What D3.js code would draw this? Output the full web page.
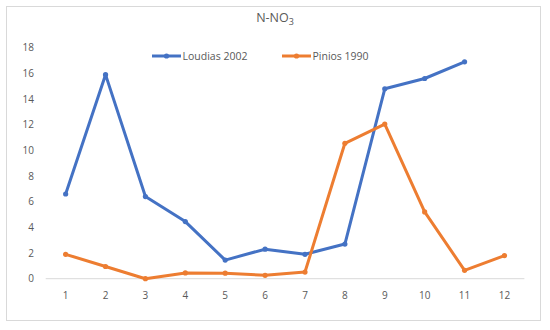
<!DOCTYPE html>
<html>
<head>
<meta charset="utf-8">
<script src="https://cdn.jsdelivr.net/npm/d3@7"></script>
<style>
  body { margin: 0; background: #fff; }
  text { font-family: "Open Sans", "Liberation Sans", sans-serif; }
</style>
</head>
<body>
<svg id="chart" width="550" height="330"></svg>
<script>
/* chart data */
var months = ['1', '2', '3', '4', '5', '6', '7', '8', '9', '10', '11', '12'];
var loudias2002 = [6.6, 15.9, 6.4, 4.45, 1.45, 2.3, 1.9, 2.7, 14.8, 15.6, 16.9, null];
var pinios1990 = [1.9, 0.95, 0.0, 0.45, 0.43, 0.26, 0.52, 10.55, 12.05, 5.2, 0.65, 1.8];
var yTicks = [0, 2, 4, 6, 8, 10, 12, 14, 16, 18];

var seriesNames = ['Loudias 2002', 'Pinios 1990'];
var seriesColors = ['#4472C4', '#ED7D31'];

var svg = d3.select('#chart');

// outer frame
svg.append('rect')
   .attr('x', 6.5).attr('y', 6.5)
   .attr('width', 534).attr('height', 314)
   .attr('fill', '#fff')
   .attr('stroke', '#d9d9d9');

var x = d3.scaleBand().domain(months).range([45.7, 524.4]);
var y = d3.scaleLinear().domain([0, 18]).range([278.7, 47.7]);

// x axis line
svg.append('line')
   .attr('x1', x.range()[0]).attr('x2', x.range()[1])
   .attr('y1', y(0)).attr('y2', y(0))
   .attr('stroke', '#d9d9d9').attr('stroke-width', 1);

// y tick labels
svg.selectAll('.ytick').data(yTicks).enter().append('text')
   .attr('class', 'ytick')
   .attr('x', 34)
   .attr('y', function(d) { return y(d); })
   .attr('dy', '0.35em')
   .attr('text-anchor', 'end')
   .attr('font-size', 10)
   .attr('fill', '#595959')
   .text(function(d) { return d; });

// x tick labels
svg.selectAll('.xtick').data(months).enter().append('text')
   .attr('class', 'xtick')
   .attr('x', function(d) { return x(d) + x.bandwidth() / 2; })
   .attr('y', 295)
   .attr('dy', '0.35em')
   .attr('text-anchor', 'middle')
   .attr('font-size', 10)
   .attr('fill', '#595959')
   .text(function(d) { return d; });

// title N-NO3
var title = svg.append('text')
   .attr('x', 275).attr('y', 22)
   .attr('text-anchor', 'middle')
   .attr('font-size', 12.5)
   .attr('fill', '#595959');
title.append('tspan').text('N-NO');
title.append('tspan').attr('font-size', 9).attr('dy', 3).text('3');

var cx = function(i) { return x(months[i]) + x.bandwidth() / 2; };

[loudias2002, pinios1990].forEach(function(vals, s) {
	var pts = vals.map(function(v, i) { return { i: i, v: v }; })
	              .filter(function(p) { return p.v !== null; });

	var line = d3.line()
	             .x(function(p) { return cx(p.i); })
	             .y(function(p) { return y(p.v); });

	svg.append('path')
	   .datum(pts)
	   .attr('d', line)
	   .attr('fill', 'none')
	   .attr('stroke', seriesColors[s])
	   .attr('stroke-width', 3)
	   .attr('stroke-linejoin', 'round')
	   .attr('stroke-linecap', 'round');

	svg.selectAll('.pt' + s).data(pts).enter().append('circle')
	   .attr('class', 'pt' + s)
	   .attr('cx', function(p) { return cx(p.i); })
	   .attr('cy', function(p) { return y(p.v); })
	   .attr('r', 2.6)
	   .attr('fill', seriesColors[s]);
});

// legend
var legendX = [152, 282];
seriesNames.forEach(function(name, s) {
	var g = svg.append('g').attr('transform', 'translate(' + legendX[s] + ', 56)');
	g.append('line')
	 .attr('x1', 0).attr('x2', 29)
	 .attr('y1', 0).attr('y2', 0)
	 .attr('stroke', seriesColors[s])
	 .attr('stroke-width', 3);
	g.append('circle')
	 .attr('cx', 14.5).attr('cy', 0).attr('r', 2.6)
	 .attr('fill', seriesColors[s]);
	g.append('text')
	 .attr('x', 30.5).attr('y', 0)
	 .attr('dy', '0.35em')
	 .attr('font-size', 10.5)
	 .attr('fill', '#595959')
	 .text(name);
});
</script>
</body>
</html>
